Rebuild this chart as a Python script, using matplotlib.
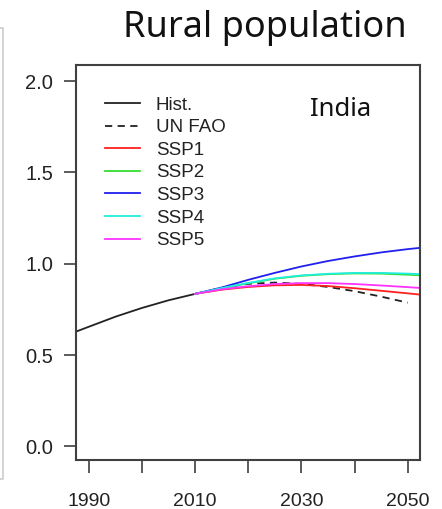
import matplotlib
matplotlib.use("Agg")
import matplotlib.pyplot as plt
from matplotlib.ticker import MultipleLocator

# historical rural population (relative) and projections
hist_years = [1985, 1990, 1995, 2000, 2005, 2010]
hist_vals = [0.600, 0.655, 0.710, 0.758, 0.800, 0.835]

fao_years = [2010, 2015, 2020, 2025, 2030, 2035, 2040, 2045, 2050]
fao_vals = [0.835, 0.868, 0.890, 0.897, 0.890, 0.873, 0.850, 0.820, 0.787]

ssp_years = [2010, 2015, 2020, 2025, 2030, 2035, 2040, 2045, 2050, 2055]
ssp1 = [0.835, 0.858, 0.873, 0.882, 0.884, 0.878, 0.866, 0.852, 0.838, 0.823]
ssp2 = [0.835, 0.866, 0.893, 0.918, 0.934, 0.943, 0.947, 0.946, 0.940, 0.933]
ssp3 = [0.835, 0.870, 0.912, 0.950, 0.985, 1.015, 1.040, 1.062, 1.080, 1.095]
ssp4 = [0.835, 0.867, 0.895, 0.920, 0.936, 0.945, 0.950, 0.950, 0.946, 0.940]
ssp5 = [0.835, 0.860, 0.877, 0.889, 0.894, 0.894, 0.889, 0.881, 0.872, 0.862]

ssp_names = ["SSP1", "SSP2", "SSP3", "SSP4", "SSP5"]
ssp_colors = ["#ff2020", "#33dd33", "#2020ee", "#22eedd", "#ff33ff"]

plt.rcParams["font.family"] = ["Liberation Sans", "DejaVu Sans"]

fig = plt.figure(figsize=(4.42, 5.09), dpi=100)
ax = fig.add_axes([0.172, 0.0953, 0.778, 0.777])

ax.plot(hist_years, hist_vals, color="#222222", lw=1.3, label="Hist.")
ax.plot(fao_years, fao_vals, color="#222222", lw=1.3, dashes=(4, 3), label="UN FAO")
for name, vals, col in zip(ssp_names, [ssp1, ssp2, ssp3, ssp4, ssp5], ssp_colors):
    ax.plot(ssp_years, vals, color=col, lw=1.3, label=name)

ax.set_xlim(1987.6, 2052.3)
ax.set_ylim(-0.077, 2.088)

ax.xaxis.set_major_locator(MultipleLocator(20))
ax.xaxis.set_minor_locator(MultipleLocator(10))
ax.set_xticks([1990, 2010, 2030, 2050])
ax.set_yticks([0.0, 0.5, 1.0, 1.5, 2.0])
ax.set_yticklabels(["0.0", "0.5", "1.0", "1.5", "2.0"])

for s in ax.spines.values():
    s.set_color("#404040")
    s.set_linewidth(1.5)

ax.tick_params(axis="y", length=8.6, width=1.2, color="#404040", pad=8,
               labelsize=14.5, labelcolor="#222222")
ax.tick_params(axis="x", which="both", length=9.4, width=1.2, color="#404040",
               pad=14, labelsize=14, labelcolor="#222222")

leg = ax.legend(loc="upper left", bbox_to_anchor=(0.085, 0.92), frameon=False,
                fontsize=13.5, handlelength=1.85, handletextpad=0.85,
                labelspacing=0.29, borderaxespad=0, borderpad=0)
for t in leg.get_texts():
    t.set_color("#222222")

ax.text(0.770, 0.872, "India", transform=ax.transAxes, ha="center",
        va="baseline", fontsize=18.5, family="Noto Sans", color="#111111")

fig.text(0.6, 0.928, "Rural population", ha="center", va="baseline",
         fontsize=26, family="Noto Sans", color="#111111")

# light frame edge on the left side
fig.add_artist(plt.Line2D([0, 3 / 442, 3 / 442, 0],
                          [1 - 28 / 509, 1 - 28 / 509, 1 - 479 / 509, 1 - 479 / 509],
                          transform=fig.transFigure, color="#cccccc", lw=1.2))

fig.savefig("out.png", dpi=100)
